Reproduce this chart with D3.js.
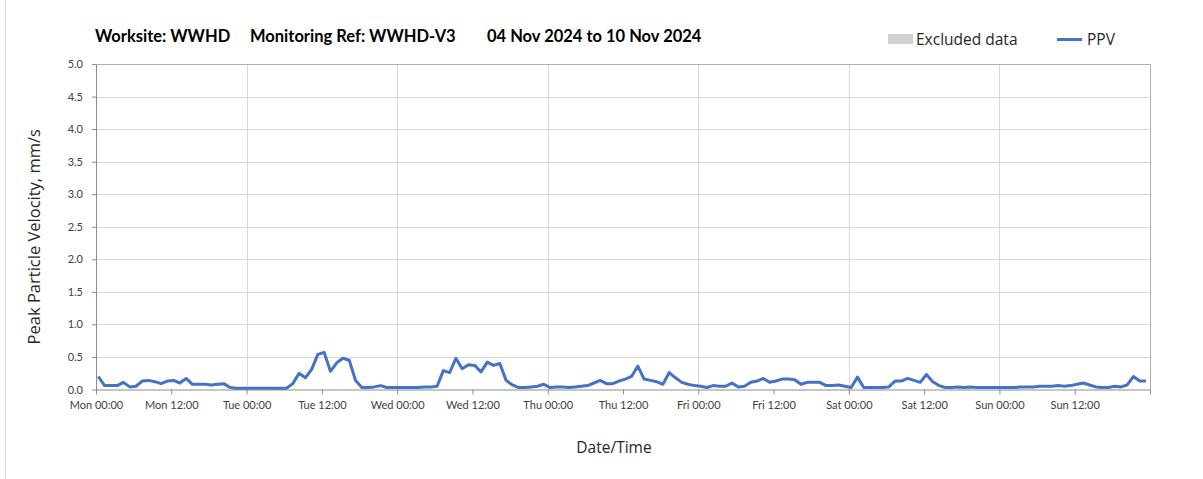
<!DOCTYPE html>
<html>
<head>
<meta charset="utf-8">
<script src="https://cdn.jsdelivr.net/npm/d3@7"></script>
<style>
  body { margin: 0; background: #fff; }
  text { font-family: Lato, "Open Sans", sans-serif; }
  .os { font-family: "Open Sans", sans-serif; }
</style>
</head>
<body>
<div id="chart"></div>
<script>
// PPV readings, one per hour, first reading Mon 04 Nov 2024 00:22
const firstReading = new Date(2024, 10, 4, 0, 22);
const ppvValues = [
  0.20, 0.06, 0.06, 0.06, 0.11, 0.04, 0.05, 0.13, 0.14, 0.12,
  0.09, 0.13, 0.14, 0.10, 0.17, 0.08, 0.08, 0.08, 0.07, 0.08,
  0.09, 0.03, 0.02, 0.02, 0.02, 0.02, 0.02, 0.02, 0.02, 0.02,
  0.02, 0.09, 0.25, 0.18, 0.31, 0.54, 0.57, 0.28, 0.41, 0.48,
  0.45, 0.14, 0.03, 0.03, 0.04, 0.06, 0.03, 0.03, 0.03, 0.03,
  0.03, 0.03, 0.04, 0.04, 0.05, 0.29, 0.26, 0.48, 0.32, 0.38,
  0.37, 0.27, 0.42, 0.37, 0.40, 0.14, 0.07, 0.03, 0.03, 0.04,
  0.05, 0.08, 0.03, 0.04, 0.04, 0.03, 0.04, 0.05, 0.06, 0.10,
  0.14, 0.09, 0.09, 0.13, 0.16, 0.20, 0.36, 0.16, 0.14, 0.12,
  0.08, 0.26, 0.18, 0.11, 0.08, 0.06, 0.05, 0.03, 0.06, 0.05,
  0.05, 0.10, 0.04, 0.05, 0.11, 0.13, 0.17, 0.11, 0.13, 0.16,
  0.16, 0.15, 0.08, 0.11, 0.11, 0.11, 0.06, 0.06, 0.07, 0.05,
  0.03, 0.19, 0.03, 0.03, 0.03, 0.03, 0.04, 0.13, 0.13, 0.17,
  0.14, 0.11, 0.23, 0.12, 0.06, 0.03, 0.03, 0.04, 0.03, 0.04,
  0.03, 0.03, 0.03, 0.03, 0.03, 0.03, 0.03, 0.04, 0.04, 0.04,
  0.05, 0.05, 0.05, 0.06, 0.05, 0.06, 0.08, 0.10, 0.07, 0.04,
  0.03, 0.03, 0.05, 0.04, 0.07, 0.20, 0.13, 0.13
];
const yTicks = [0, 0.5, 1, 1.5, 2, 2.5, 3, 3.5, 4, 4.5, 5];
const titleParts = ["Worksite: WWHD", "Monitoring Ref: WWHD-V3", "04 Nov 2024 to 10 Nov 2024"];
const legendItems = ["Excluded data", "PPV"];

const data = ppvValues.map((v, i) => ({ time: d3.timeHour.offset(firstReading, i), ppv: v }));

const W = 1203, H = 479;
const margin = { top: 64, right: 53, bottom: 89.5, left: 96 };
const width = W - margin.left - margin.right,
      height = H - margin.top - margin.bottom;

const svg = d3.select("#chart").append("svg")
    .attr("width", W)
    .attr("height", H);

// outer frame edge on the left
svg.append("line")
    .attr("x1", 5.5).attr("x2", 5.5).attr("y1", 0).attr("y2", H)
    .attr("stroke", "#dcdcdc");

const g = svg.append("g")
    .attr("transform", "translate(" + margin.left + "," + margin.top + ")");

const x = d3.scaleTime()
    .domain([new Date(2024, 10, 4), new Date(2024, 10, 11)])
    .range([0, width]);
const y = d3.scaleLinear()
    .domain([0, 5])
    .range([height, 0]);

// horizontal gridlines
g.append("g")
    .selectAll("line")
    .data(yTicks.slice(1))
    .join("line")
    .attr("x1", 0).attr("x2", width)
    .attr("y1", d => Math.round(y(d)) + 0.5).attr("y2", d => Math.round(y(d)) + 0.5)
    .attr("stroke", "#d9d9d9");

// vertical gridlines at midnight
g.append("g")
    .selectAll("line")
    .data(d3.timeDay.range(d3.timeDay.offset(x.domain()[0], 1), x.domain()[1]))
    .join("line")
    .attr("x1", d => Math.round(x(d)) + 0.5).attr("x2", d => Math.round(x(d)) + 0.5)
    .attr("y1", 0).attr("y2", height)
    .attr("stroke", "#d9d9d9");

// plot frame top/right
g.append("path")
    .attr("d", "M0,0.5H" + (width + 0.5) + "V" + height)
    .attr("fill", "none")
    .attr("stroke", "#b0b0b0");

// X axis
const xAxis = g.append("g")
    .attr("transform", "translate(0," + height + ")")
    .call(d3.axisBottom(x)
        .tickValues(d3.timeHour.every(12).range(x.domain()[0], x.domain()[1]))
        .tickFormat(d3.timeFormat("%a %H:%M"))
        .tickSize(5)
        .tickSizeOuter(0));
xAxis.select(".domain").attr("stroke", "#8c8c8c");
xAxis.selectAll(".tick line").attr("stroke", "#8c8c8c");
xAxis.append("line")
    .attr("x1", width + 0.5).attr("x2", width + 0.5).attr("y1", 0).attr("y2", 5)
    .attr("stroke", "#8c8c8c");
xAxis.selectAll(".tick text")
    .attr("dy", "1.05em")
    .attr("fill", "#404040")
    .style("font-size", "11px");

// Y axis
const yAxis = g.append("g")
    .call(d3.axisLeft(y)
        .tickValues(yTicks)
        .tickFormat(d3.format(".1f"))
        .tickSize(4)
        .tickSizeOuter(0));
yAxis.select(".domain").attr("stroke", "#8c8c8c");
yAxis.selectAll(".tick line").attr("stroke", "#8c8c8c");
yAxis.selectAll(".tick text")
    .attr("x", -13)
    .attr("fill", "#404040")
    .style("font-size", "11px");

// PPV line
g.append("path")
    .datum(data)
    .attr("fill", "none")
    .attr("stroke", "#4472c4")
    .attr("stroke-width", 3)
    .attr("stroke-linejoin", "round")
    .attr("d", d3.line()
        .x(d => x(d.time))
        .y(d => y(d.ppv)));

// axis titles
svg.append("text")
    .attr("class", "os")
    .attr("transform", "translate(40," + (margin.top + height / 2 + 10) + ")rotate(-90)")
    .attr("text-anchor", "middle")
    .attr("fill", "#262626")
    .style("font-size", "16.5px")
    .text("Peak Particle Velocity, mm/s");

svg.append("text")
    .attr("class", "os")
    .attr("x", 614).attr("y", 453)
    .attr("text-anchor", "middle")
    .attr("fill", "#262626")
    .style("font-size", "15.5px")
    .text("Date/Time");

// title
const titleX = [95, 250, 487];
svg.append("g")
    .selectAll("text")
    .data(titleParts)
    .join("text")
    .attr("x", (d, i) => titleX[i])
    .attr("y", 42)
    .attr("fill", "#000")
    .style("font-size", "16.5px")
    .style("font-weight", "bold")
    .text(d => d);

// legend
const legend = svg.append("g");
legend.append("rect")
    .attr("x", 888).attr("y", 34).attr("width", 25).attr("height", 10)
    .attr("fill", "#d0d0d0");
legend.append("text")
    .attr("class", "os")
    .attr("x", 916).attr("y", 45)
    .attr("fill", "#262626")
    .style("font-size", "15.5px")
    .text(legendItems[0]);
legend.append("line")
    .attr("x1", 1057).attr("x2", 1082).attr("y1", 39.5).attr("y2", 39.5)
    .attr("stroke", "#4472c4").attr("stroke-width", 3);
legend.append("text")
    .attr("class", "os")
    .attr("x", 1087).attr("y", 45)
    .attr("fill", "#262626")
    .style("font-size", "15.5px")
    .text(legendItems[1]);
</script>
</body>
</html>
